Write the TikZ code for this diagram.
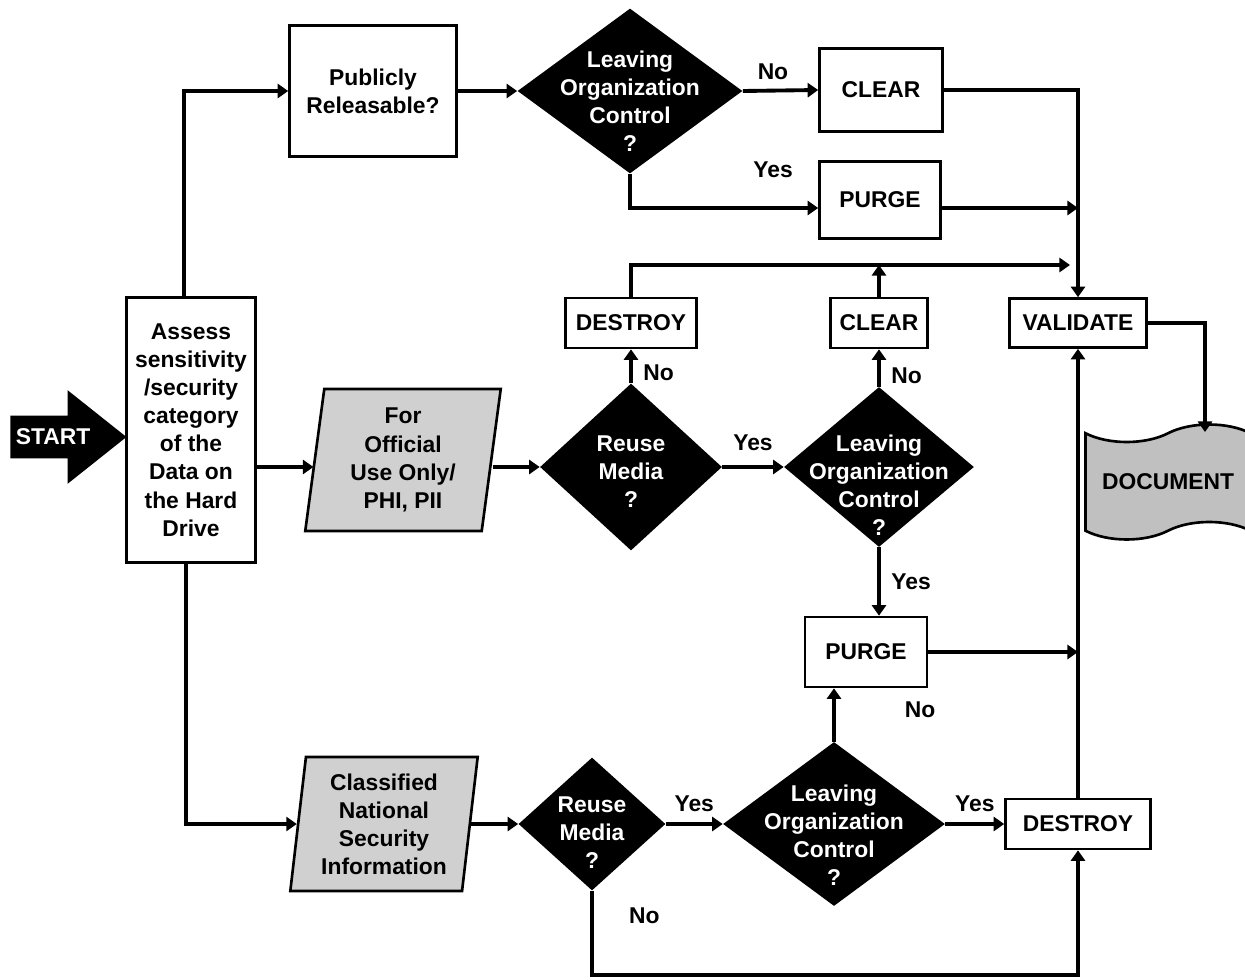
\documentclass[tikz,border=0pt]{standalone}
\usepackage{fontspec}
\setmainfont{Liberation Sans}
\usepackage{tikz}
\usetikzlibrary{arrows.meta}
\usetikzlibrary{shapes.geometric, shapes.arrows, shapes.symbols}
\usetikzlibrary{calc}
\usetikzlibrary{positioning}
\definecolor{paragray}{RGB}{208,208,208}
\definecolor{docgray}{RGB}{192,192,192}

\begin{document}
\begin{tikzpicture}[x=0.02cm, y=-0.02cm, font=\bfseries\fontsize{13}{16}\selectfont]
	\useasboundingbox (0,0) rectangle (1245,980);

	\node[single arrow, fill=black, anchor=tip, minimum height=2.32cm, inner xsep=0pt, inner ysep=0.42cm,
	      single arrow head extend=0.51cm, single arrow tip angle=77,
	      label={[text=white, xshift=-0.04cm]center:START}] (start) at (127,437) {};

	\begin{scope}[every node/.style={rectangle, draw, line width=1.5pt, fill=white, align=center, inner sep=2pt}]
		\node[minimum width=2.58cm, minimum height=5.3cm] (assess) at (191,430) {Assess\\sensitivity\\/security\\category\\of the\\Data on\\the Hard\\Drive};
		\node[minimum width=3.34cm, minimum height=2.62cm] (pub) at (373,91) {Publicly\\Releasable?};
		\node[minimum width=2.46cm, minimum height=1.66cm] (clr1) at (881,90) {CLEAR};
		\node[minimum width=2.42cm, minimum height=1.54cm] (prg1) at (880,200) {PURGE};
		\node[minimum width=2.74cm, minimum height=0.98cm] (val) at (1078,323) {VALIDATE};
		\node[minimum width=2.62cm, minimum height=1cm] (des1) at (631,323) {DESTROY};
		\node[minimum width=1.94cm, minimum height=1cm] (clr2) at (879,323) {CLEAR};
		\node[minimum width=2.44cm, minimum height=1.4cm] (prg2) at (866,652) {PURGE};
		\node[minimum width=2.9cm, minimum height=1cm] (des2) at (1078,824) {DESTROY};
	\end{scope}

	\begin{scope}[every node/.style={trapezium, trapezium left angle=83, trapezium right angle=97,
	              trapezium stretches=true, draw, line width=1.5pt, fill=paragray, align=center, inner sep=2pt}]
		\node[minimum width=3.94cm, minimum height=2.84cm] (fouo) at (403,460) {For\\Official\\Use Only/\\PHI, PII};
		\node[minimum width=3.76cm, minimum height=2.68cm] (cnsi) at (384,824) {Classified\\National\\Security\\Information};
	\end{scope}

	\begin{scope}[decision/.style={diamond, fill=black, inner sep=0pt},
	              every label/.style={text=white, align=center}]
		\node[decision, minimum width=4.5cm, minimum height=3.3cm, label={[yshift=-0.2cm]center:{Leaving\\Organization\\Control\\?}}] (lv1) at (630,91) {};
		\node[decision, minimum width=3.64cm, minimum height=3.34cm, label={[yshift=-0.1cm]center:{Reuse\\Media\\?}}] (rm1) at (631,467) {};
		\node[decision, minimum width=3.8cm, minimum height=3.2cm, label={[yshift=-0.36cm]center:{Leaving\\Organization\\Control\\?}}] (lv2) at (879,467) {};
		\node[decision, minimum width=2.94cm, minimum height=2.66cm, label={[yshift=-0.18cm]center:{Reuse\\Media\\?}}] (rm2) at (592,824) {};
		\node[decision, minimum width=4.44cm, minimum height=3.28cm, label={[yshift=-0.22cm]center:{Leaving\\Organization\\Control\\?}}] (lv3) at (834,824) {};
	\end{scope}

	\node[tape, draw, line width=1.5pt, fill=docgray, minimum width=3.3cm, minimum height=2.3cm,
	      tape bend top=in and out, tape bend bottom=in and out, tape bend height=0.35cm] (doc) at (1168,482) {DOCUMENT};

	\coordinate (join) at (1070,265);
	\coordinate (bottom) at (1078,975);

	\begin{scope}[>={Triangle[length=6pt,width=8pt]}, line width=2.2pt,
	              every node/.style={inner sep=3pt}]
		\draw[->] ([xshift=-0.14cm]assess.north) |- (pub.west);
		\draw[->] (assess.east |- rm1.west) -- (fouo.west |- rm1.west);
		\draw[->] ([xshift=-0.1cm]assess.south) |- (cnsi.west);
		\draw[->] (pub.east) -- (lv1.west);
		\draw[->] (lv1.east) -- node[above=2pt, pos=0.4] (no1) {No} (clr1.west);
		\draw[->] (lv1.south) |- node[above=13pt, pos=0.88] (yes1) {Yes} ($(prg1.west)+(0,8)$);
		\draw[->] (clr1.east) -| (val.north);
		\draw[->] ($(prg1.east)+(0,8)$) -- ($(prg1.east -| val.north)+(0,8)$);
		\draw[->] (fouo.east |- rm1.west) -- (rm1.west);
		\draw[->] (rm1.north) -- node[right=3pt, pos=0.3] (no2) {No} (des1.south);
		\draw[->] (rm1.east) -- node[above=5pt] (yes2) {Yes} (lv2.west);
		\draw[->] (lv2.north) -- node[right=3pt, pos=0.3] (no3) {No} (clr2.south);
		\draw[->] (lv2.south) -- node[right=3pt] (yes3) {Yes} (lv2.south |- prg2.north);
		\draw[->] (des1.north) |- (join);
		\draw[->] (clr2.north) -- (clr2.north |- join);
		\draw[->] (prg2.east) -- (prg2.east -| val.south);
		\draw[->] (cnsi.east) -- (rm2.west);
		\draw[->] (rm2.east) -- node[above=3pt] (yes4) {Yes} (lv3.west);
		\draw[->] (lv3.north) -- node[pos=0.6, xshift=1.72cm] (no4) {No} (lv3.north |- prg2.south);
		\draw[->] (lv3.east) -- node[above=3pt] (yes5) {Yes} (des2.west);
		\draw[->] (des2.north) -- (val.south);
		\draw[->] (rm2.south) |- node[right=0.6cm, pos=0.15] (no5) {No} (bottom) -- (des2.south);
		\draw[->] (val.east) -| ($(doc.north)+(37,0)$);
	\end{scope}
\end{tikzpicture}
\end{document}
